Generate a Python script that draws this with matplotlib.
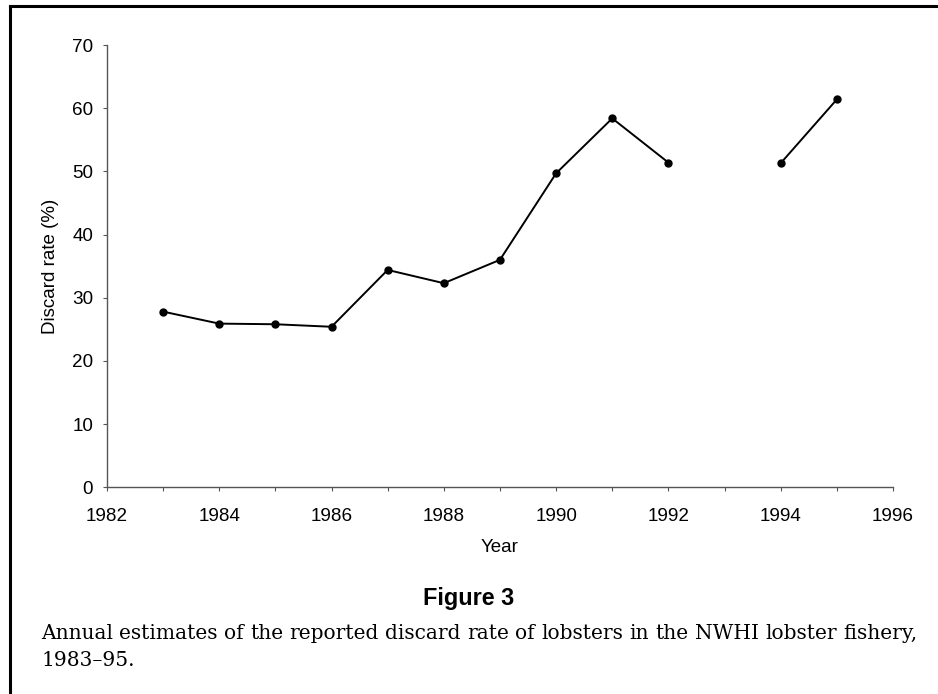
import numpy as np
import matplotlib
matplotlib.use("Agg")
import matplotlib.pyplot as plt
from matplotlib.lines import Line2D

# discard rate (%) by year, 1993 has no estimate
years = [1983, 1984, 1985, 1986, 1987, 1988, 1989, 1990, 1991, 1992, 1993, 1994, 1995]
discard = [27.8, 25.9, 25.8, 25.4, 34.4, 32.3, 36.0, 49.7, 58.4, 51.4, np.nan, 51.3, 61.4]

xticks = [1982, 1984, 1986, 1988, 1990, 1992, 1994, 1996]
yticks = [0, 10, 20, 30, 40, 50, 60, 70]

caption1 = "Annual estimates of the reported discard rate of lobsters in the NWHI lobster fishery,"
caption2 = "1983\u201395."

fig = plt.figure(figsize=(9.38, 6.94), dpi=100)
ax = fig.add_axes([0.114, 0.298, 0.838, 0.637])

ax.plot(years, discard, color="black", lw=1.4, marker="o", ms=5)

ax.set_xlim(1982, 1996)
ax.set_ylim(0, 70)
ax.set_xticks(xticks)
ax.set_xticks(range(1982, 1997), minor=True)
ax.set_yticks(yticks)
for s in ["top", "right"]:
    ax.spines[s].set_visible(False)
for s in ["left", "bottom"]:
    ax.spines[s].set_color("#555555")
    ax.spines[s].set_linewidth(1.0)
ax.tick_params(axis="both", which="both", color="#555555", labelsize=13.6,
               length=3, width=0.8)
ax.tick_params(axis="x", which="both", pad=12)
ax.tick_params(axis="y", pad=7)
for lab in ax.get_xticklabels() + ax.get_yticklabels():
    lab.set_family("Liberation Sans")

ax.set_xlabel("Year", fontsize=13.5, family="Liberation Sans", labelpad=10)
ax.set_ylabel("Discard rate (%)", fontsize=13.5, family="Liberation Sans", labelpad=9)

# frame lines of the printed page (top and left only)
fig.add_artist(Line2D([10 / 938, 1], [1 - 6 / 694] * 2, transform=fig.transFigure,
                      color="black", lw=2.2))
fig.add_artist(Line2D([10 / 938] * 2, [0, 1 - 6 / 694], transform=fig.transFigure,
                      color="black", lw=2.2))

fig.text(0.5, 1 - 598 / 694, "Figure 3", ha="center", va="center",
         fontsize=16.8, fontweight="bold", family="Liberation Sans")

# justified first caption line
renderer = fig.canvas.get_renderer()
x0, x1 = 41, 917
words = caption1.split()
arts = [fig.text(0, 1 - 639 / 694, w, ha="left", va="baseline", fontsize=14.5,
                 family="DejaVu Serif") for w in words]
widths = [a.get_window_extent(renderer).width for a in arts]
gap = (x1 - x0 - sum(widths)) / (len(words) - 1)
x = x0
for a, w in zip(arts, widths):
    a.set_x(x / 938)
    x += w + gap
fig.text(x0 / 938, 1 - 666 / 694, caption2, ha="left", va="baseline",
         fontsize=14.5, family="DejaVu Serif")

fig.savefig("out.png", dpi=100)
